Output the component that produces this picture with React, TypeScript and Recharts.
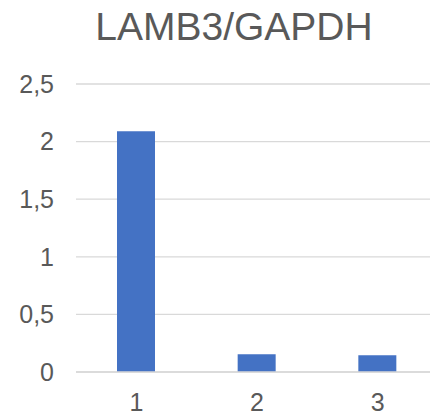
import { BarChart, Bar, XAxis, YAxis, CartesianGrid } from "recharts";

const categories = ["1", "2", "3"];
const ratios = [2.09, 0.155, 0.145];
const yTicks = [0, 0.5, 1, 1.5, 2, 2.5];
const title = "LAMB3/GAPDH";

const data = categories.map((name, i) => ({ name, value: ratios[i] }));

const FONT = "'Liberation Sans', Arial, sans-serif";
const TEXT = "#595959";
const GRID = "#d9d9d9";

export default function App() {
  return (
    <div
      style={{
        position: "absolute",
        left: 0,
        top: 0,
        width: 430,
        height: 418,
        overflow: "hidden",
        background: "#fff",
        fontFamily: FONT,
      }}
    >
      <svg
        width={430}
        height={60}
        style={{ position: "absolute", left: 0, top: 0 }}
      >
        <text
          x={234}
          y={39.5}
          textAnchor="middle"
          fontSize={39}
          fill={TEXT}
          fontFamily={FONT}
        >
          {title}
        </text>
      </svg>
      <BarChart
        width={440}
        height={418}
        data={data}
        margin={{ top: 84, right: 2, bottom: 0, left: 0 }}
        barSize={38}
      >
        <CartesianGrid vertical={false} stroke={GRID} strokeWidth={1.3} />
        <XAxis
          dataKey="name"
          height={46}
          tickLine={false}
          tickSize={0}
          tickMargin={21}
          axisLine={{ stroke: GRID, strokeWidth: 1.5 }}
          tick={{ fill: TEXT, fontSize: 25, fontFamily: FONT }}
        />
        <YAxis
          width={76}
          domain={[0, 2.5]}
          ticks={yTicks}
          tickLine={false}
          axisLine={false}
          tickSize={0}
          tickMargin={22}
          tickFormatter={(v: number) => String(v).replace(".", ",")}
          tick={{ fill: TEXT, fontSize: 25, fontFamily: FONT }}
        />
        <Bar dataKey="value" fill="#4472c4" isAnimationActive={false} />
      </BarChart>
    </div>
  );
}
